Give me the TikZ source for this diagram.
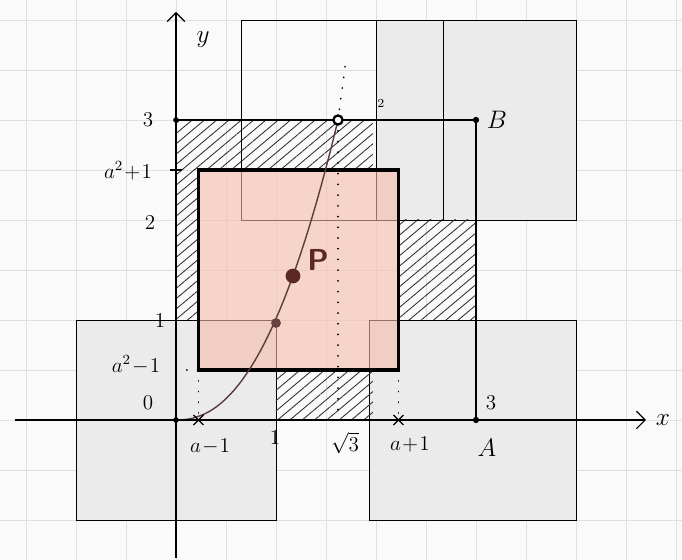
\documentclass[tikz,border=0pt]{standalone}
\usetikzlibrary{patterns.meta,arrows.meta,shapes.misc}
\definecolor{paper}{RGB}{250,250,250}
\definecolor{gridgray}{RGB}{224,224,224}
\definecolor{boxgray}{RGB}{235,235,235}
\definecolor{pinkbox}{RGB}{244,188,170}
\definecolor{curvebrown}{RGB}{88,62,58}
\definecolor{dotbrown}{RGB}{92,40,34}
\tikzset{
  graybox/.style={fill=boxgray,draw=black,line width=0.5pt},
  hatch/.style={pattern={Lines[angle=40,distance=4.5pt,line width=0.5pt]},pattern color=black!80},
  lbl/.style={inner sep=1pt,font=\large},
  crossmark/.style={cross out,draw,minimum size=5pt,inner sep=0pt,line width=0.7pt},
  guide/.style={line width=1pt,line cap=round,dash pattern=on 0.1pt off 6pt},
}
\begin{document}
\begin{tikzpicture}[x=2cm,y=2cm]
				\fill[paper] (-1.76,-1.40) rectangle (5.06,4.20);
				\useasboundingbox (-1.76,-1.40) rectangle (5.06,4.20);
				\draw[gridgray,line width=0.4pt] (-1.76,-1.40) grid[step=0.5] (5.06,4.20);
				\pgfmathsetmacro\av{sqrt(1.5)}
				% the grey squares round O, A, B
				\draw[graybox] (-1,-1) rectangle (1,1);
				\draw[graybox] (1.93,-1) rectangle (4,1);
				\draw[graybox] (2,2) rectangle (4,4);
				% hatched parts
				\fill[hatch] (0,2.5) rectangle (1.97,3);
				\fill[hatch] (0,1) rectangle (\av-1,2.5);
				\fill[hatch] (\av+1,1) rectangle (3,2);
				\fill[hatch] (1,0) rectangle (1.97,0.5);
				\draw[line width=0.5pt] (0.65,2) rectangle (2.67,4);
				% the square round P
				\fill[pinkbox,opacity=0.6] (\av-1,0.5) rectangle (\av+1,2.5);
				\draw[line width=2.2pt] (\av-1,0.5) rectangle (\av+1,2.5);
				% curve
				\coordinate (O) at (0,0);
				\coordinate (Q) at (1,0.97);
				\coordinate (P) at (1.17,1.44);
				\coordinate (T) at (1.62,3);
				\coordinate (A) at (3,0);
				\coordinate (B) at (3,3);
				\draw[curvebrown,line width=0.8pt] plot[domain=0:1.62,samples=40] (\x,{3*(\x/1.62)^2.25});
				\draw[guide] (T) -- (1.70,3.6);
				\draw[guide] (T) -- (1.62,0);
				\draw[guide] (\av-1,0.5) -- (\av-1,0);
				\draw[guide] (\av+1,0.5) -- (\av+1,0);
				\draw[guide] (0,0.5) -- (\av-1,0.5);
				% square OABC
				\draw[line width=0.7pt] (0,3) -- (B);
				\draw[line width=1.2pt] (B) -- (A);
				\draw[line width=1.2pt] (O) -- (A);
				\draw[line width=1.2pt] (O) -- (0,3);
				% axes
				\draw[line width=0.7pt,-{Straight Barb[length=5pt,width=10pt]}] (-1.61,0) -- (4.70,0);
				\draw[line width=0.7pt,-{Straight Barb[length=5pt,width=10pt]}] (0,-1.38) -- (0,4.08);
				% points
				\fill (O) circle (1.6pt);
				\fill (0,3) circle (1.6pt);
				\fill (B) circle (1.8pt);
				\fill (A) circle (1.8pt);
				\fill[dotbrown!70!gray] (Q) circle (2.8pt);
				\fill[dotbrown] (P) circle (4.2pt);
				\draw[line width=1.3pt,fill=white] (T) circle (2.6pt);
				\node[crossmark] (cl) at (\av-1,0) {};
				\node[crossmark] (cr) at (\av+1,0) {};
				\draw[line width=0.8pt] (-0.06,2.5) -- (0.06,2.5);
				% labels
				\node[lbl,font=\Large] (ylab) at (0.27,3.8) {$y$};
				\node[lbl,font=\Large] (xlab) at (4.87,0) {$x$};
				\node[lbl] (y3) at (-0.28,3) {3};
				\node[lbl] (yap) at (-0.48,2.49) {$a^2\!+\!1$};
				\node[lbl] (y2) at (-0.26,1.98) {2};
				\node[lbl] (y1) at (-0.16,1.0) {1};
				\node[lbl] (yam) at (-0.40,0.55) {$a^2\!-\!1$};
				\node[lbl] (y0) at (-0.28,0.17) {0};
				\node[lbl] (xam) at (0.34,-0.27) {$a\!-\!1$};
				\node[lbl] (x1) at (0.99,-0.17) {1};
				\node[lbl] (xs3) at (1.69,-0.23) {$\sqrt{3}$};
				\node[lbl] (xap) at (2.34,-0.25) {$a\!+\!1$};
				\node[lbl,font=\Large] (alab) at (3.11,-0.28) {$A$};
				\node[lbl] (x3) at (3.15,0.17) {3};
				\node[lbl,font=\Large] (blab) at (3.21,3.0) {$B$};
				\node[lbl,font=\scriptsize] (two) at (2.05,3.17) {2};
				\node[lbl,font=\LARGE\sffamily\bfseries,text=dotbrown] (plab) at (1.42,1.6) {P};
			\end{tikzpicture}
\end{document}
